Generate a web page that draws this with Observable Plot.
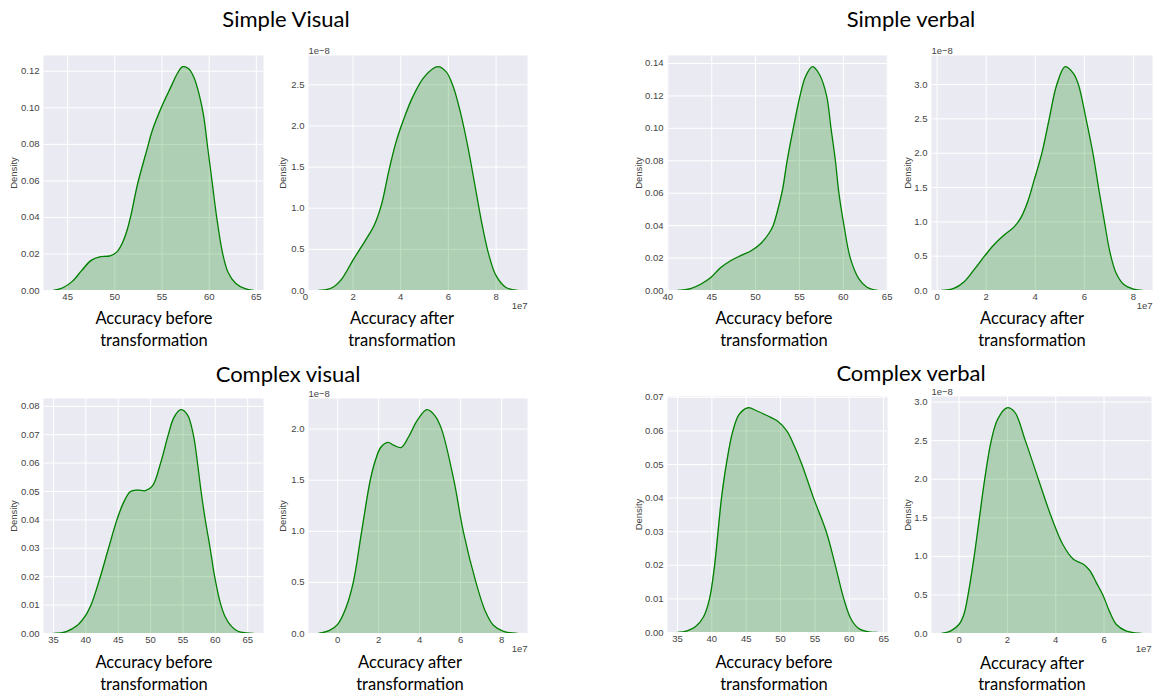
<!DOCTYPE html>
<html><head><meta charset="utf-8">
<script src="https://cdn.jsdelivr.net/npm/d3@7"></script>
<script src="https://cdn.jsdelivr.net/npm/@observablehq/plot@0.6"></script>
<style>
body{margin:0;background:#fff;width:1155px;height:695px;position:relative;overflow:hidden;font-family:"Liberation Sans",Arial,sans-serif}
.p{position:absolute}
.p svg{max-width:none !important;display:block}
.t{position:absolute;transform:translate(-50%,-50%);white-space:nowrap;font-family:Lato,"Open Sans",sans-serif;color:#000;line-height:1}
</style></head><body>
<script>
// ---- text ----
const titles = ["Simple Visual", "Simple verbal", "Complex visual", "Complex verbal"];
const xLabelBefore = ["Accuracy before", "transformation"];
const xLabelAfter = ["Accuracy after", "transformation"];
const yLabel = "Density";
const offsetAfterY = "1e\u22128";
const offsetAfterX = "1e7";

// ---- density curves: [accuracy, density] ----
const simpleVisualBefore = [[43.5,0],[44.5,0.0015],[45.5,0.005],[46.5,0.011],[47.5,0.0165],[48.5,0.0185],[49.5,0.019],[50.2,0.021],[50.8,0.026],[51.3,0.033],[51.7,0.041],[52.4,0.058],[53.4,0.077],[54.0,0.088],[55.0,0.101],[56.0,0.112],[56.6,0.1185],[57.2,0.1225],[57.8,0.1215],[58.4,0.1165],[59.0,0.106],[59.4,0.096],[59.85,0.078],[60.3,0.060],[60.8,0.040],[61.4,0.021],[62.0,0.010],[62.8,0.004],[63.8,0.001],[64.7,0]];
const simpleVisualAfter = [[0.55,0],[1.1,0.03],[1.5,0.13],[2.0,0.37],[2.5,0.60],[2.9,0.80],[3.2,1.05],[3.5,1.45],[3.8,1.8],[4.1,2.06],[4.5,2.35],[5.0,2.6],[5.55,2.72],[5.9,2.66],[6.2,2.48],[6.5,2.17],[6.8,1.77],[7.1,1.3],[7.4,0.82],[7.7,0.43],[8.0,0.18],[8.4,0.04],[8.9,0]];
const simpleVerbalBefore = [[41.1,0],[42.6,0.0012],[43.8,0.004],[44.9,0.008],[46.0,0.014],[47.2,0.0185],[48.3,0.0215],[49.5,0.0245],[50.6,0.029],[51.5,0.035],[52.0,0.040],[52.5,0.049],[53.07,0.062],[53.6,0.08],[54.3,0.10],[55.07,0.12],[55.7,0.132],[56.5,0.138],[57.3,0.133],[58.1,0.12],[58.6,0.10],[59.1,0.08],[59.5,0.06],[60.08,0.04],[60.8,0.02],[61.8,0.007],[62.7,0.002],[63.9,0]];
const simpleVerbalAfter = [[0.18,0],[0.68,0.03],[1.08,0.12],[1.5,0.3],[1.93,0.5],[2.3,0.66],[2.71,0.80],[3.12,0.92],[3.4,1.05],[3.7,1.3],[3.95,1.6],[4.27,2.0],[4.57,2.5],[4.88,3.0],[5.22,3.26],[5.56,3.16],[5.76,3.0],[6.07,2.5],[6.35,2.0],[6.58,1.5],[6.82,1.0],[7.05,0.55],[7.3,0.25],[7.6,0.09],[8.0,0.02],[8.37,0]];
const complexVisualBefore = [[35,0],[37,0.0007],[38.6,0.0027],[40,0.0065],[40.8,0.01],[42.24,0.02],[43.5,0.03],[44.8,0.04],[45.8,0.046],[46.9,0.05],[48,0.0505],[49.2,0.0503],[50.3,0.052],[51.55,0.06],[52.74,0.07],[53.6,0.076],[54.66,0.0788],[55.7,0.077],[56.6,0.07],[57.25,0.06],[57.8,0.05],[58.45,0.04],[59.2,0.03],[59.9,0.02],[60.8,0.0105],[61.5,0.006],[62.5,0.0025],[63.5,0.0008],[64.7,0.0002],[65.9,0]];
const complexVisualAfter = [[-0.94,0],[-0.4,0.03],[0,0.09],[0.4,0.25],[0.76,0.5],[1.17,1.0],[1.59,1.5],[1.85,1.7],[2.1,1.82],[2.45,1.87],[2.75,1.84],[3.1,1.82],[3.45,1.92],[3.9,2.09],[4.36,2.19],[4.75,2.13],[5.07,2.0],[5.67,1.5],[6.13,1.0],[6.75,0.5],[7.2,0.22],[7.6,0.08],[8.1,0.02],[8.78,0]];
const complexVerbalBefore = [[35,0],[36.4,0.0005],[37.6,0.0017],[38.8,0.0047],[39.66,0.01],[40.4,0.02],[40.9,0.03],[41.4,0.04],[42.1,0.05],[43.06,0.06],[44.0,0.065],[45.3,0.0669],[46.5,0.066],[48,0.0646],[49.5,0.063],[50.9,0.06],[52.0,0.0555],[53.1,0.05],[54.8,0.04],[56.65,0.03],[57.96,0.02],[59.2,0.01],[60.3,0.0038],[61.5,0.001],[62.8,0.0002],[64.1,0]];
const complexVerbalAfter = [[-0.73,0],[-0.34,0.035],[0,0.12],[0.2,0.25],[0.37,0.5],[0.6,0.95],[0.82,1.45],[1.05,1.98],[1.33,2.5],[1.6,2.78],[1.98,2.926],[2.3,2.87],[2.74,2.5],[3.28,2.0],[3.83,1.5],[4.3,1.15],[4.72,0.965],[5.13,0.9],[5.4,0.82],[5.68,0.66],[5.95,0.5],[6.22,0.29],[6.5,0.12],[6.9,0.035],[7.55,0]];

// ---- tick values ----
const xTicksSVB = [45,50,55,60,65];
const xTicksSVeB = [40,45,50,55,60,65];
const xTicksCB = [35,40,45,50,55,60,65];
const xTicksAfter = [0,2,4,6,8];
const xTicksCVeA = [0,2,4,6];
const yTicksSVB = [0,0.02,0.04,0.06,0.08,0.10,0.12];
const yTicksSVeB = [0,0.02,0.04,0.06,0.08,0.10,0.12,0.14];
const yTicksCVB = [0,0.01,0.02,0.03,0.04,0.05,0.06,0.07,0.08];
const yTicksCVeB = [0,0.01,0.02,0.03,0.04,0.05,0.06,0.07];
const yTicksSVA = [0,0.5,1.0,1.5,2.0,2.5];
const yTicksSVeA = [0,0.5,1.0,1.5,2.0,2.5,3.0];
const yTicksCVA = [0,0.5,1.0,1.5,2.0];
const yTicksCVeA = [0,0.5,1.0,1.5,2.0,2.5,3.0];

// ---- layout (frame boxes in page pixels) ----
const panels = [
  {data: simpleVisualBefore, xt: xTicksSVB, yt: yTicksSVB, yf: ".2f", after:false, L:43, R:263, T:55, B:290, lo:33},
  {data: simpleVisualAfter, xt: xTicksAfter, yt: yTicksSVA, yf: ".1f", after:true, L:308, R:527, T:55, B:290, lo:29},
  {data: simpleVerbalBefore, xt: xTicksSVeB, yt: yTicksSVeB, yf: ".2f", after:false, L:667, R:887, T:55, B:290, lo:32},
  {data: simpleVerbalAfter, xt: xTicksAfter, yt: yTicksSVeA, yf: ".1f", after:true, L:931, R:1152, T:55, B:290, lo:27},
  {data: complexVisualBefore, xt: xTicksCB, yt: yTicksCVB, yf: ".2f", after:false, L:43, R:263, T:398, B:633, lo:33},
  {data: complexVisualAfter, xt: xTicksAfter, yt: yTicksCVA, yf: ".1f", after:true, L:308, R:527, T:398, B:633, lo:29},
  {data: complexVerbalBefore, xt: xTicksCB, yt: yTicksCVeB, yf: ".2f", after:false, L:667, R:887, T:396, B:632, lo:32},
  {data: complexVerbalAfter, xt: xTicksCVeA, yt: yTicksCVeA, yf: ".1f", after:true, L:931, R:1151, T:396, B:633, lo:27}
];
const titlePos = [[286,19],[911,19],[288,374],[911,373]];
const xLabelPos = [[154,318,340],[402,318,340],[774,318,340],[1032,318,340],[154,662,684],[410,662,684],[774,662,684],[1032,663,684]];

const GREEN = "#008000";
const ml = 46, mr = 14, mt = 16, mb = 34;
const fmtX = d3.format("d");

panels.forEach((g, i) => {
  const xs = g.data.map(d => d[0]), ys = g.data.map(d => d[1]);
  const x0 = d3.min(xs), x1 = d3.max(xs), pad = (x1 - x0) * 0.05;
  const ymax = d3.max(ys) * 1.05;
  const w = g.R - g.L, h = g.B - g.T;
  const marks = [
    Plot.frame({fill: "#eaeaf2", stroke: "none"}),
    Plot.gridX(g.xt, {stroke: "#fff", strokeOpacity: 1, strokeWidth: 1}),
    Plot.gridY(g.yt, {stroke: "#fff", strokeOpacity: 1, strokeWidth: 1}),
    Plot.areaY(g.data, {x: d => d[0], y: d => d[1], fill: GREEN, fillOpacity: 0.25, curve: "catmull-rom", clip: "frame"}),
    Plot.lineY(g.data, {x: d => d[0], y: d => d[1], stroke: GREEN, strokeWidth: 1.3, curve: "catmull-rom", clip: "frame"}),
    Plot.axisX(g.xt, {tickSize: 0, tickPadding: 3, tickFormat: fmtX, label: null, fill: "#444"}),
    Plot.axisY(g.yt, {tickSize: 0, tickPadding: 4, tickFormat: d3.format(g.yf), label: yLabel, labelAnchor: "center", labelOffset: g.lo, labelArrow: "none", fill: "#444"})
  ];
  if (g.after) {
    marks.push(Plot.text([offsetAfterY], {text: d => d, frameAnchor: "top-left", dy: -8, textAnchor: "start", fill: "#444"}));
    marks.push(Plot.text([offsetAfterX], {text: d => d, frameAnchor: "bottom-right", dy: 18, textAnchor: "end", fill: "#444"}));
  }
  const W = w + ml + mr, H = h + mt + mb;
  const chart = Plot.plot({
    width: W, height: H,
    marginLeft: ml, marginRight: mr, marginTop: mt, marginBottom: mb,
    style: {fontFamily: "'Liberation Sans', Arial, sans-serif", fontSize: "9.5px", color: "#444", background: "transparent", overflow: "visible", maxWidth: "none"},
    x: {domain: [x0 - pad, x1 + pad]},
    y: {domain: [0, ymax]},
    marks
  });
  const div = document.createElement("div");
  div.className = "p";
  div.style.left = (g.L - ml) + "px";
  div.style.top = (g.T - mt) + "px";
  div.style.width = W + "px";
  div.style.height = H + "px";
  div.appendChild(chart);
  document.body.appendChild(div);

  const lab = g.after ? xLabelAfter : xLabelBefore;
  const p = xLabelPos[i];
  lab.forEach((s, k) => {
    const t = document.createElement("div");
    t.className = "t";
    t.style.fontSize = "16.5px";
    t.style.left = p[0] + "px";
    t.style.top = p[1 + k] + "px";
    t.textContent = s;
    document.body.appendChild(t);
  });
});

titles.forEach((s, i) => {
  const t = document.createElement("div");
  t.className = "t";
  t.style.fontSize = "22px";
  t.style.left = titlePos[i][0] + "px";
  t.style.top = titlePos[i][1] + "px";
  t.textContent = s;
  document.body.appendChild(t);
});
</script>
</body></html>
